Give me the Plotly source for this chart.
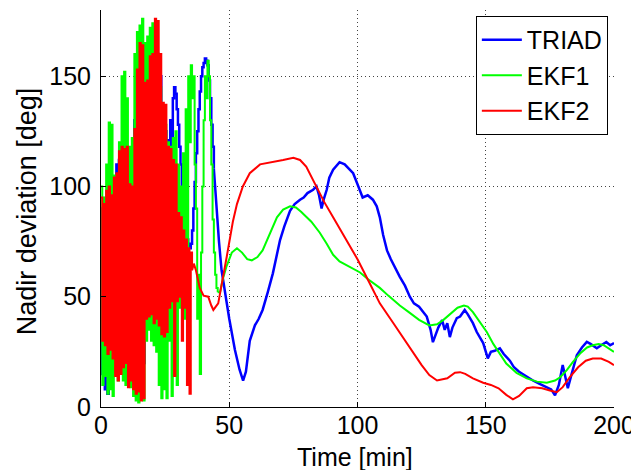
import numpy as np
import plotly.graph_objects as go

# ---------------- data ----------------
# noisy early segments, sampled every 0.5 min from t = 0
noise_dt = 0.5
triad_noise = [90, 15, 85, 8, 95, 6, 92, 18, 100, 20, 102, 16, 110, 22, 112, 20,
               115, 25, 110, 24, 105, 18, 100, 20, 110, 14, 130, 10, 150, 12, 166, 14,
               160, 20, 150, 45, 155, 44, 160, 42, 165, 40, 168, 42, 160, 40, 150, 45,
               135, 42, 125, 50, 121, 60, 130, 100, 140, 145, 142, 135, 128, 118, 110, 100,
               92, 85, 80, 76, 73, 72, 74, 80, 90, 102, 115, 125, 135, 143, 150, 154,
               156, 158, 157, 155, 148, 140, 128, 118, 108]
triad_t = [45, 46, 47, 48.3, 50, 52.2, 54, 55.4, 56.5, 58, 60, 61.5, 63, 65, 67, 69.8,
           71.5, 73.7, 75.5, 77.6, 79, 80.5, 82.7, 84, 85, 86, 86.8, 88, 89, 90.5, 93, 95,
           96.5, 98.3, 100, 102, 104, 106, 107.5, 108.7, 110, 111.5, 113, 115, 116.5, 118.5,
           120.4, 122, 124, 127, 128.5, 129.4, 130.5, 131.5, 133, 134, 135, 136, 137, 138.7,
           140, 141.8, 143, 145, 146.5, 148, 149, 150.8, 152, 153.5, 155.5, 157, 159.4, 161,
           163, 165, 168.4, 171, 173.8, 175.5, 177, 178.5, 180, 181, 182, 183.5, 185.5,
           187.5, 189.4, 191, 193.3, 195, 197, 198.5, 200]
triad_v = [90, 75, 62, 52, 40, 26, 17, 12, 16, 30, 37, 40, 44, 52, 60.6, 75.7,
           82, 89, 92, 94, 95, 97, 98.5, 100, 96, 90, 94, 98.5, 104, 107.6, 111, 110,
           108, 106, 101, 95, 96, 94, 91, 86, 78, 71, 67, 62, 59, 55,
           50, 47, 45.5, 41, 35, 29.4, 33, 36, 39.4, 35, 38, 31.7, 36, 40.3,
           41, 44, 42, 38, 34, 31, 29, 22, 25, 25.5, 26.6, 24, 21, 18,
           16, 14.5, 12, 10.5, 9, 8, 5.3, 10, 19, 14, 8.5, 15, 23.5,
           27, 29.5, 28.5, 26.6, 28, 29.5, 28, 29]

ekf1_noise = [100, 10, 95, 14, 110, 6, 129, 8, 128, 5, 105, 18, 100, 12, 120, 15,
              150, 12, 152, 10, 140, 12, 118, 9, 122, 5, 160, 3, 170, 2, 173, 6,
              176, 3, 165, 30, 168, 35, 172, 30, 174, 28, 160, 25, 150, 10, 145, 4,
              130, 8, 128, 4, 120, 30, 118, 5, 122, 40, 125, 10, 110, 45, 100, 50,
              115, 40, 135, 60, 150, 120, 155, 140, 150, 110, 90, 40, 60, 15, 70, 100,
              130, 150, 140, 157, 150, 130, 110, 85, 70, 60, 54, 52]
ekf1_t = [46.4, 47.5, 49, 51, 53, 55, 57, 58.8, 61, 63, 66, 68.6, 71, 73.7, 76, 78,
          82, 85.3, 88, 90.5, 93, 96, 101, 104, 108.7, 112, 116.5, 120, 124, 128, 131,
          133.4, 136, 139, 141.5, 143, 145, 147.5, 150.4, 153, 156, 158, 162, 166, 170,
          173.8, 177, 179, 181.6, 184, 187, 189.5, 191.7, 194, 196, 198, 200]
ekf1_v = [52, 58, 64, 70, 72, 70, 67, 66.5, 68, 71, 79, 86, 89.5, 91, 90.5, 88.5,
          84, 79, 74, 69, 66, 64, 61, 58, 54, 50.5, 46, 43, 39.5, 37, 37.5,
          39.4, 42, 45, 46, 45.5, 43, 39, 34, 28.5, 23, 19.7, 15.5, 13, 11.5,
          11, 12, 13.5, 16.7, 20.5, 24.5, 27, 28, 28.5, 28, 26.5, 25]

ekf2_noise = [95, 30, 92, 28, 98, 24, 100, 26, 96, 22, 104, 14, 106, 12, 116, 15,
              118, 18, 117, 20, 118, 9, 101, 12, 100, 8, 126, 6, 153, 7, 165, 3,
              164, 4, 147, 40, 148, 41, 159, 42, 160, 38, 176, 40, 175, 37, 160, 33,
              138, 32, 137, 34, 118, 45, 117, 48, 112, 14, 110, 48, 88, 50, 86, 30,
              80, 45, 76, 10, 72, 6, 70, 62]
ekf2_t = [36.2, 37, 38.5, 40, 41.8, 43, 43.8, 45.7, 47.5, 49, 51.4, 53, 55.3, 58, 62,
          67, 71, 75, 77.6, 80, 84, 87, 90.5, 95, 100, 104.8, 108.7, 114, 120.4, 125,
          128, 131, 135, 138, 140, 142, 145, 149, 152, 155, 158, 160.6, 163, 166, 168.4,
          172, 175, 177.7, 180, 182.8, 186, 189, 191.7, 195, 198, 200]
ekf2_v = [65, 62, 54, 50.5, 50, 46, 44, 47, 58, 68, 84, 92, 100, 106, 110,
          111, 112, 113, 112, 109, 100, 93, 86, 77, 67, 56, 47, 38, 27, 19,
          14.5, 12, 13, 15.5, 15.8, 15, 13, 11, 10, 8.5, 5.5, 3.5, 5, 8.5, 9,
          8.5, 7.5, 6.7, 9, 13.6, 18, 21, 22, 22, 20.5, 19]

series_names = ["TRIAD", "EKF1", "EKF2"]
series_colors = ["#0000FF", "#00FF00", "#FF0000"]
x_ticks = [0, 50, 100, 150, 200]
y_ticks = [0, 50, 100, 150]

FONT = "Liberation Sans, Arial, sans-serif"

fig = go.Figure()
series = [(triad_noise, triad_t, triad_v), (ekf1_noise, ekf1_t, ekf1_v),
          (ekf2_noise, ekf2_t, ekf2_v)]
widths = [2.5, 2, 2]
for (noise, ts, vs), name, color, w in zip(series, series_names, series_colors, widths):
    tn = list(noise_dt * np.arange(len(noise)))
    # noisy segment as vertical-edged steps
    fig.add_trace(go.Scatter(x=tn, y=noise, mode="lines", name=name, legendgroup=name,
                             showlegend=False, line=dict(color=color, width=w, shape="hv")))
    # smooth remainder, joined to the last noisy sample
    fig.add_trace(go.Scatter(x=[tn[-1]] + list(ts), y=[noise[-1]] + list(vs), mode="lines",
                             name=name, legendgroup=name, showlegend=True,
                             line=dict(color=color, width=w)))

axis_common = dict(
    showgrid=True, gridcolor="#444444", griddash="1px,3px", gridwidth=1,
    showline=True, linecolor="black", linewidth=1,
    ticks="inside", ticklen=5, tickcolor="black",
    zeroline=False, automargin=False,
    tickfont=dict(size=25, color="black", family=FONT),
)

fig.update_xaxes(range=[0, 200], tickvals=x_ticks, ticklabelstandoff=-4, **axis_common)
fig.update_yaxes(range=[0, 180], tickvals=y_ticks, ticklabelstandoff=4, **axis_common)

fig.add_annotation(text="Time [min]", xref="paper", yref="paper", x=0.495, y=0,
                   yshift=-50, xanchor="center", yanchor="middle", showarrow=False,
                   font=dict(size=25, color="black", family=FONT))
fig.add_annotation(text="Nadir deviation [deg]", xref="paper", yref="paper", x=0, y=0.493,
                   xshift=-74, xanchor="center", yanchor="middle", showarrow=False,
                   textangle=-90, font=dict(size=27, color="black", family=FONT))

# page body has an 8 px default margin, so the figure is 8 px smaller and shifted
fig.update_layout(
    width=631, height=462,
    margin=dict(l=93, r=25, t=2, b=63),
    paper_bgcolor="white", plot_bgcolor="white",
    font=dict(family=FONT, size=25, color="black"),
    legend=dict(x=0.988, y=0.985, xanchor="right", yanchor="top",
                bgcolor="white", bordercolor="black", borderwidth=1,
                font=dict(size=25, color="black", family=FONT),
                tracegroupgap=0, itemwidth=40),
    showlegend=True,
)

fig.write_html("out.html")
